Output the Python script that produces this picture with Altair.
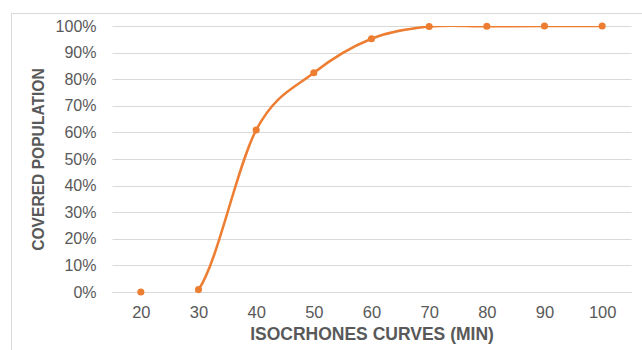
import altair as alt
import pandas as pd

minutes = [20, 30, 40, 50, 60, 70, 80, 90, 100]
covered = [0.0, 0.009, 0.609, 0.824, 0.952, 0.998, 0.999, 1.0, 1.0]

df = pd.DataFrame({"minutes": minutes, "covered": covered})

FONT = "Liberation Sans"
GRAY = "#595959"
ORANGE = "#ED7D31"

x = alt.X(
    "minutes:Q",
    scale=alt.Scale(domain=[15, 105], nice=False, zero=False),
    axis=alt.Axis(
        title="ISOCRHONES CURVES (MIN)",
        values=minutes,
        grid=False,
        ticks=False,
        tickSize=0,
        domain=True,
        domainColor="#D9D9D9",
        labelPadding=12,
        titlePadding=5,
        labelAngle=0,
        labelFontSize=16.5,
        titleFontSize=17.5,
    ),
)
y = alt.Y(
    "covered:Q",
    scale=alt.Scale(domain=[0, 1], nice=False),
    axis=alt.Axis(
        title="COVERED POPULATION",
        format=".0%",
        values=[i / 10 for i in range(11)],
        grid=True,
        gridColor="#D9D9D9",
        gridWidth=1,
        ticks=False,
        tickSize=0,
        domain=False,
        labelPadding=16,
        titlePadding=9,
        labelFontSize=16,
        titleFontSize=15.6,
    ),
)

line = alt.Chart(df).mark_line(
    color=ORANGE, strokeWidth=2.5, interpolate="cardinal", tension=0, clip=True
).encode(x=x, y=y)

pts = alt.Chart(df).mark_point(
    color=ORANGE, filled=True, size=50, opacity=1
).encode(x=x, y=y)

border = alt.Chart(df).mark_rect(
    fill=None, stroke="#D9D9D9", strokeWidth=1, clip=False
).encode(
    x=alt.value(-100.5), x2=alt.value(700), y=alt.value(-12.5), y2=alt.value(400)
)

chart = (
    alt.layer(border, line, pts)
    .properties(
        width=519,
        height=266,
        autosize=alt.AutoSizeParams(type="none"),
        padding={"left": 112, "top": 26, "right": 11, "bottom": 58},
    )
    .configure_view(stroke=None)
    .configure_axis(
        labelFont=FONT,
        titleFont=FONT,
        labelColor=GRAY,
        titleColor=GRAY,
        titleFontWeight="bold",
    )
)

chart.save("out.html", embed_options={"renderer": "svg", "actions": False})
